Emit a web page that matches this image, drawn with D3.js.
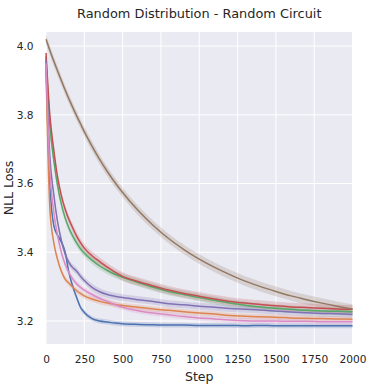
<!DOCTYPE html>
<html>
<head>
<meta charset="utf-8">
<script src="https://cdn.jsdelivr.net/npm/d3@7"></script>
<style>
  body { margin: 0; background: #fff; }
  text { font-family: "DejaVu Sans", sans-serif; fill: #262626; }
</style>
</head>
<body>
<div id="chart"></div>
<script>
/*------------------------------------------*/
/*            Data                          */
/*------------------------------------------*/

var steps = [0, 25, 50, 75, 100, 125, 150, 175, 200, 225, 250, 300, 350, 400, 450, 500,
             600, 700, 800, 900, 1000, 1100, 1200, 1300, 1400, 1500, 1600, 1700, 1800, 1900, 2000];

var blueLoss = [3.95, 3.60, 3.48, 3.45, 3.43, 3.40, 3.34, 3.30, 3.268, 3.24, 3.225, 3.207, 3.20, 3.197, 3.194, 3.192,
                3.190, 3.189, 3.188, 3.188, 3.187, 3.187, 3.187, 3.186, 3.187, 3.186, 3.186, 3.186, 3.186, 3.186, 3.186];
var orangeLoss = [3.93, 3.53, 3.43, 3.38, 3.345, 3.322, 3.31, 3.298, 3.288, 3.28, 3.273, 3.264, 3.257, 3.252, 3.248, 3.245,
                  3.240, 3.235, 3.231, 3.227, 3.223, 3.220, 3.216, 3.214, 3.212, 3.211, 3.209, 3.208, 3.207, 3.206, 3.205];
var greenLoss = [3.97, 3.77, 3.67, 3.595, 3.54, 3.50, 3.47, 3.447, 3.427, 3.41, 3.397, 3.377, 3.36, 3.347, 3.336, 3.327,
                 3.312, 3.298, 3.286, 3.277, 3.268, 3.260, 3.252, 3.246, 3.241, 3.237, 3.234, 3.231, 3.229, 3.228, 3.227];
var redLoss = [3.98, 3.80, 3.70, 3.62, 3.565, 3.525, 3.495, 3.47, 3.447, 3.428, 3.412, 3.39, 3.373, 3.357, 3.342, 3.33,
               3.315, 3.302, 3.290, 3.280, 3.272, 3.264, 3.257, 3.252, 3.248, 3.244, 3.241, 3.239, 3.237, 3.235, 3.234];
var purpleLoss = [3.96, 3.68, 3.57, 3.49, 3.435, 3.395, 3.37, 3.355, 3.345, 3.33, 3.318, 3.298, 3.285, 3.277, 3.272, 3.268,
                  3.262, 3.257, 3.250, 3.247, 3.243, 3.240, 3.236, 3.234, 3.232, 3.229, 3.226, 3.224, 3.222, 3.221, 3.219];
var brownLoss = [4.02, 3.988, 3.957, 3.928, 3.90, 3.872, 3.846, 3.821, 3.797, 3.774, 3.751, 3.709, 3.67, 3.635, 3.603, 3.574,
                 3.522, 3.478, 3.44, 3.408, 3.38, 3.356, 3.335, 3.316, 3.30, 3.286, 3.273, 3.262, 3.252, 3.243, 3.235];
var pinkLoss = [3.95, 3.64, 3.52, 3.45, 3.40, 3.365, 3.34, 3.322, 3.308, 3.298, 3.29, 3.277, 3.266, 3.257, 3.248, 3.24,
                3.230, 3.223, 3.218, 3.213, 3.209, 3.206, 3.203, 3.201, 3.200, 3.200, 3.199, 3.199, 3.198, 3.198, 3.198];

var seriesLoss = [blueLoss, orangeLoss, greenLoss, redLoss, purpleLoss, brownLoss, pinkLoss];
var bandHalf = [0.007, 0.008, 0.011, 0.012, 0.01, 0.014, 0.008];

var yTicks = [3.2, 3.4, 3.6, 3.8, 4.0],
    xTicks = [0, 250, 500, 750, 1000, 1250, 1500, 1750, 2000];

var palette = ["#4c72b0", "#dd8452", "#55a868", "#c44e52", "#8172b3", "#937860", "#da8bc3"];

/*------------------------------------------*/
/*            SVG & scales                  */
/*------------------------------------------*/

var totalWidth = 372, totalHeight = 391;
var margin = {top: 32, right: 19.5, bottom: 47, left: 46};
var width = totalWidth - margin.left - margin.right,
    height = totalHeight - margin.top - margin.bottom;

var svg = d3.select("#chart").append("svg")
    .attr("width", totalWidth)
    .attr("height", totalHeight);

var g = svg.append("g")
    .attr("transform", "translate(" + margin.left + "," + margin.top + ")");

var x = d3.scaleLinear().domain([0, 2000]).range([0, width]);
var y = d3.scaleLinear().domain([3.133, 4.041]).range([height, 0]);

g.append("rect")
    .attr("width", width)
    .attr("height", height)
    .attr("fill", "#eaeaf2");

// grid
g.selectAll(".xgrid").data(xTicks).enter().append("line")
    .attr("x1", function(d) { return x(d); })
    .attr("x2", function(d) { return x(d); })
    .attr("y1", 0).attr("y2", height)
    .attr("stroke", "#fff").attr("stroke-width", 1);

g.selectAll(".ygrid").data(yTicks).enter().append("line")
    .attr("y1", function(d) { return y(d); })
    .attr("y2", function(d) { return y(d); })
    .attr("x1", 0).attr("x2", width)
    .attr("stroke", "#fff").attr("stroke-width", 1);

/*------------------------------------------*/
/*            Bands & lines                 */
/*------------------------------------------*/

var area = d3.area()
    .x(function(d) { return x(d.step); })
    .y0(function(d) { return y(d.v - d.h); })
    .y1(function(d) { return y(d.v + d.h); })
    .curve(d3.curveMonotoneX);

var line = d3.line()
    .x(function(d) { return x(d.step); })
    .y(function(d) { return y(d.v); })
    .curve(d3.curveMonotoneX);

var plot = g.append("g");

seriesLoss.forEach(function(vals, i) {
  var pts = steps.map(function(s, j) { return {step: s, v: vals[j], h: bandHalf[i]}; });
  plot.append("path")
      .datum(pts)
      .attr("d", area)
      .attr("fill", palette[i])
      .attr("fill-opacity", 0.22);
});

seriesLoss.forEach(function(vals, i) {
  var pts = steps.map(function(s, j) { return {step: s, v: vals[j]}; });
  plot.append("path")
      .datum(pts)
      .attr("d", line)
      .attr("fill", "none")
      .attr("stroke", palette[i])
      .attr("stroke-width", 1.5);
});

/*------------------------------------------*/
/*            Axes text                     */
/*------------------------------------------*/

var xAxis = d3.axisBottom(x).tickValues(xTicks).tickFormat(d3.format("d")).tickSize(0).tickPadding(11);
g.append("g")
    .attr("transform", "translate(0," + height + ")")
    .call(xAxis)
    .call(function(a) { a.select(".domain").remove(); })
    .selectAll("text")
    .attr("font-size", "10.6px")
    .attr("font-family", "DejaVu Sans")
    .attr("fill", "#262626");

var yAxis = d3.axisLeft(y).tickValues(yTicks).tickFormat(d3.format(".1f")).tickSize(0).tickPadding(12.5);
g.append("g")
    .call(yAxis)
    .call(function(a) { a.select(".domain").remove(); })
    .selectAll("text")
    .attr("font-size", "10.6px")
    .attr("font-family", "DejaVu Sans")
    .attr("fill", "#262626");

svg.append("text")
    .attr("x", margin.left + width / 2)
    .attr("y", 18)
    .attr("text-anchor", "middle")
    .attr("font-size", "12.9px")
    .text("Random Distribution - Random Circuit");

svg.append("text")
    .attr("x", margin.left + width / 2)
    .attr("y", 381)
    .attr("text-anchor", "middle")
    .attr("font-size", "12.5px")
    .text("Step");

svg.append("text")
    .attr("transform", "translate(12.5," + (margin.top + height / 2) + ") rotate(-90)")
    .attr("text-anchor", "middle")
    .attr("font-size", "12.5px")
    .text("NLL Loss");
</script>
</body>
</html>
